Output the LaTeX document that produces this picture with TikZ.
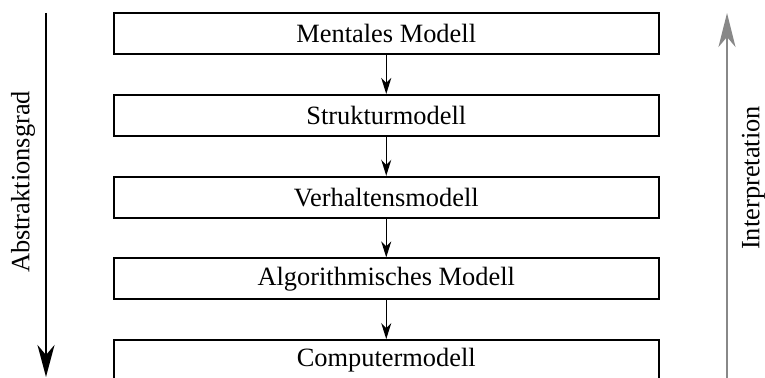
\documentclass[tikz,border=0pt]{standalone}
\usepackage{fontspec}
\setmainfont{Liberation Serif}
\usetikzlibrary{arrows.meta}
\begin{document}
\begin{tikzpicture}[x=0.5pt,y=-0.5pt,
  modelbox/.style={draw=black, line width=1pt, minimum width=272.5pt, minimum height=20.5pt, inner sep=0pt, font=\fontsize{13.2}{15}\selectfont},
  steparrow/.style={line width=0.7pt, -{Stealth[length=8pt,width=5pt,inset=2.5pt]}},
  sidelabel/.style={rotate=90, font=\fontsize{13.2}{15}\selectfont, inner sep=0pt}
]
\useasboundingbox (0,0) rectangle (765,378);
\clip (0,0) rectangle (765,378);
\node[modelbox] (m1) at (386.25,33.7) {Mentales Modell};
\node[modelbox] (m2) at (386.25,115.5) {Strukturmodell};
\node[modelbox] (m3) at (386.25,197.3) {Verhaltensmodell};
\node[modelbox] (m4) at (386.25,278.9) {Algorithmisches Modell};
\node[modelbox] (m5) at (386.25,360.6) {Computermodell};
\draw[steparrow] (m1.south) -- (m2.north);
\draw[steparrow] (m2.south) -- (m3.north);
\draw[steparrow] (m3.south) -- (m4.north);
\draw[steparrow] (m4.south) -- (m5.north);
\coordinate (atop) at (46,13);
\coordinate (abot) at (46,377);
\draw[line width=1.2pt, -{Stealth[length=16pt,width=8.5pt,inset=5pt]}] (atop) -- (abot);
\coordinate (itop) at (727,13);
\coordinate (ibot) at (727,380);
\draw[line width=1.2pt, color={rgb,255:red,136;green,136;blue,136}, -{Stealth[length=17pt,width=8.5pt,inset=5pt]}] (ibot) -- (itop);
\node[sidelabel] (al) at (23,182) {Abstraktionsgrad};
\node[sidelabel] (il) at (753.5,178) {Interpretation};
\end{tikzpicture}
\end{document}
